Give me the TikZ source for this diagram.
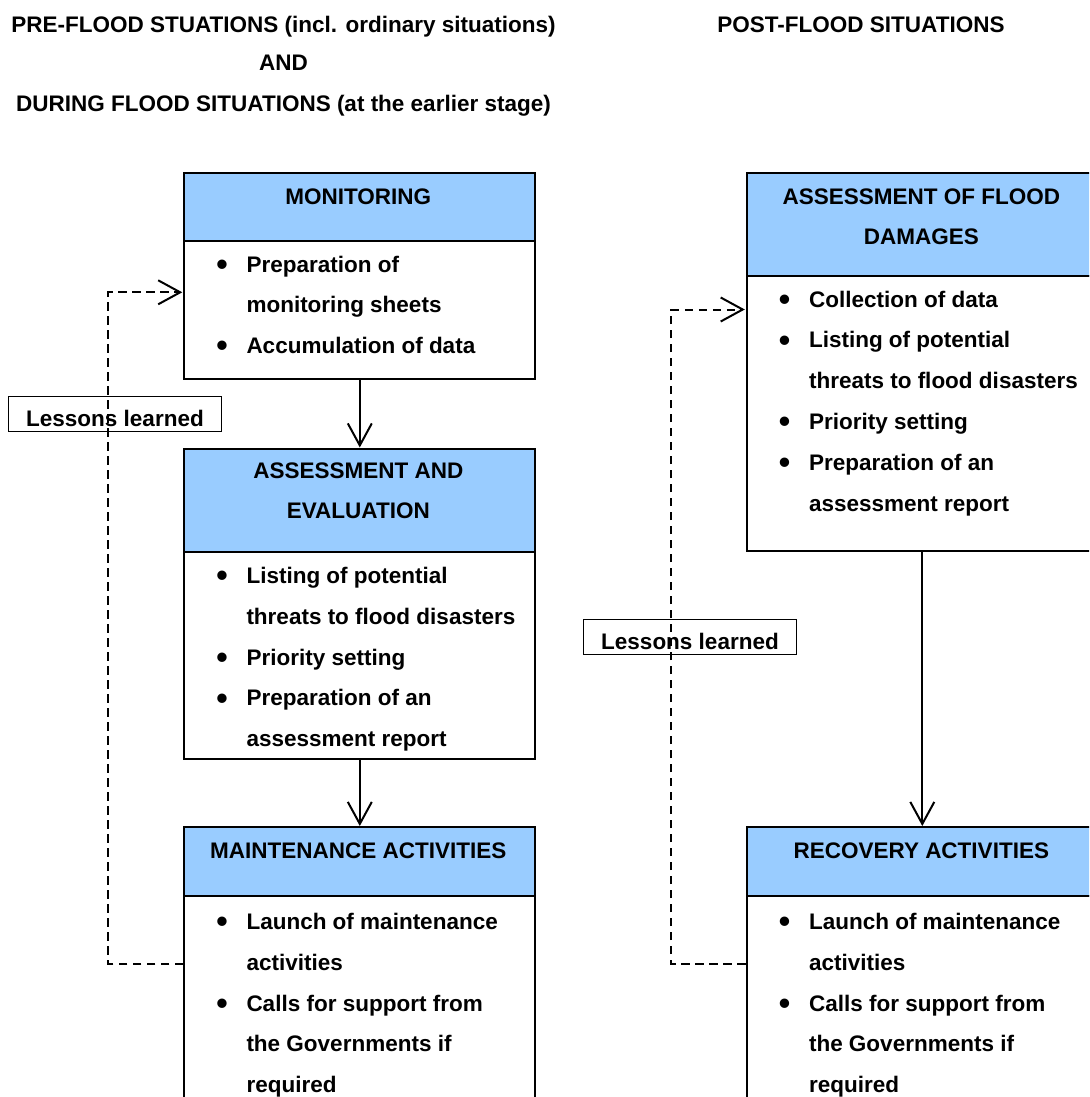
\documentclass[tikz,border=0pt]{standalone}
\usepackage{fontspec}
\setmainfont{Liberation Sans}
\usetikzlibrary{arrows.meta}
\definecolor{headblue}{RGB}{153,204,255}

% bullet lines: a bullet item and a continuation line
\newcommand\bdot{\raisebox{-3.2pt}{\scalebox{1.45}{•}}}
\newcommand\bitem{\makebox[34.5pt][l]{\makebox[20pt]{\bdot}}}
\newcommand\bcont{\hspace*{34.5pt}}
\newcommand\bodytext[1]{\begin{minipage}[t]{320pt}\raggedright\fontsize{22.5}{40.8}\selectfont\bfseries #1\end{minipage}}
\newcommand\headtext[1]{\begin{minipage}[t]{351pt}\centering\fontsize{22.5}{40}\selectfont\bfseries #1\end{minipage}}

\tikzset{
  headbox/.style={draw, line width=2pt, fill=headblue, minimum width=351pt, anchor=north west, inner sep=0pt},
  bodybox/.style={draw, line width=2pt, fill=white, minimum width=351pt, anchor=north west, inner sep=0pt},
  textline/.style={anchor=base, inner sep=0pt},
  bodyline/.style={anchor=base west, inner sep=0pt},
  title/.style={anchor=base, inner sep=0pt, font=\fontsize{22.5}{26}\selectfont\bfseries},
  flow/.style={line width=2pt, -{Straight Barb[length=22pt,width=24pt]}},
  feedback/.style={line width=2pt, dash pattern=on 8.5pt off 5.5pt, -{Straight Barb[length=22pt,width=24pt]}},
  lessonbox/.style={draw, line width=1.5pt, minimum width=213.4pt, minimum height=35pt, inner sep=0pt,
    text height=25pt, text depth=0pt, font=\fontsize{22.5}{26}\selectfont\bfseries},
}

\begin{document}
\begin{tikzpicture}[x=1pt, y=-1pt]
\useasboundingbox (0,0) rectangle (1089,1097);
\clip (0,0) rectangle (1089,1097);

% column titles
\node[title] (t1) at (283.5,33) {PRE-FLOOD STUATIONS (incl. ordinary situations)};
\node[title] (t2) at (283.5,71) {AND};
\node[title] (t3) at (283.5,111.5) {DURING FLOOD SITUATIONS (at the earlier stage)};
\node[title] (t4) at (861,33) {POST-FLOOD SITUATIONS};

% left column boxes
\node[headbox, minimum height=68pt]  (monH) at (183.3,172) {};
\node[bodybox, minimum height=138pt] (monB) at (183.3,240) {};
\node[headbox, minimum height=103pt] (aeH)  at (183.3,447.5) {};
\node[bodybox, minimum height=207pt] (aeB)  at (183.3,550.5) {};
\node[headbox, minimum height=69pt]  (mtH)  at (183.3,826) {};
\node[bodybox, minimum height=240pt] (mtB)  at (183.3,895) {};

% right column boxes
\node[headbox, minimum height=103pt] (afH) at (745.8,172) {};
\node[bodybox, minimum height=275pt] (afB) at (745.8,275) {};
\node[headbox, minimum height=69pt]  (rcH) at (745.8,826) {};
\node[bodybox, minimum height=240pt] (rcB) at (745.8,895) {};

% headings
\node[textline] (monT) at (358.3,204) {\headtext{MONITORING}};
\node[textline] (aeT)  at (358.3,478.5) {\headtext{ASSESSMENT AND\\EVALUATION}};
\node[textline] (mtT)  at (358.3,858.5) {\headtext{MAINTENANCE ACTIVITIES}};
\node[textline] (afT)  at (921.3,204.5) {\headtext{ASSESSMENT OF FLOOD\\DAMAGES}};
\node[textline] (rcT)  at (921.3,858.5) {\headtext{RECOVERY ACTIVITIES}};

% bullet lists
\node[bodyline] (monL) at (211.8,272) {\bodytext{%
  \bitem Preparation of\\
  \bcont monitoring sheets\\
  \bitem Accumulation of data}};
\node[bodyline] (aeL) at (211.8,583.5) {\bodytext{%
  \bitem Listing of potential\\
  \bcont threats to flood disasters\\
  \bitem Priority setting\\
  \bitem Preparation of an\\
  \bcont assessment report}};
\node[bodyline] (mtL) at (211.8,929.5) {\bodytext{%
  \bitem Launch of maintenance\\
  \bcont activities\\
  \bitem Calls for support from\\
  \bcont the Governments if\\
  \bcont required}};
\node[bodyline] (afL) at (774.3,307) {\bodytext{%
  \bitem Collection of data\\
  \bitem Listing of potential\\
  \bcont threats to flood disasters\\
  \bitem Priority setting\\
  \bitem Preparation of an\\
  \bcont assessment report}};
\node[bodyline] (rcL) at (774.3,929.5) {\bodytext{%
  \bitem Launch of maintenance\\
  \bcont activities\\
  \bitem Calls for support from\\
  \bcont the Governments if\\
  \bcont required}};

% main flow
\draw[flow] (monB.south) -- (aeH.north);
\draw[flow] (aeB.south) -- (mtH.north);
\draw[flow] (afB.south) -- (rcH.north);

% feedback loops
\coordinate (fbLout) at (183.3,963.5);
\coordinate (fbLa)   at (108.3,963.5);
\coordinate (fbLb)   at (108.3,292.3);
\coordinate (fbLin)  at (182.3,292.3);
\draw[feedback] (fbLout) -- (fbLa) -- (fbLb) -- (fbLin);

\coordinate (fbRout) at (745.8,963.5);
\coordinate (fbRa)   at (671.3,963.5);
\coordinate (fbRb)   at (671.3,309.5);
\coordinate (fbRin)  at (744.8,309.5);
\draw[feedback] (fbRout) -- (fbRa) -- (fbRb) -- (fbRin);

\node[lessonbox] (lessL) at (115,413.9) {Lessons learned};
\node[lessonbox] (lessR) at (690,637) {Lessons learned};
\end{tikzpicture}
\end{document}
